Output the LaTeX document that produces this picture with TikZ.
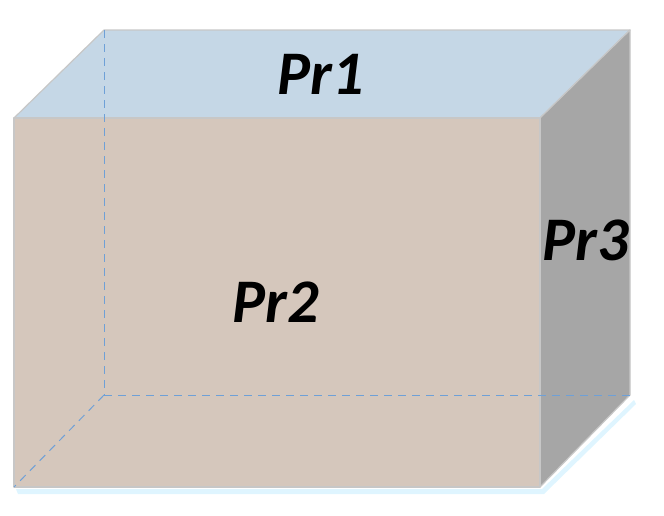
\documentclass[tikz,border=0pt]{standalone}
\usepackage{fontspec}
\setmainfont{Carlito}
\begin{document}
\begin{tikzpicture}[x=1pt,y=-1pt,
  face/.style={draw=black!22,line width=1.2pt,line join=round},
  hid/.style={draw={rgb,255:red,110;green,160;blue,215},dash pattern=on 8pt off 6pt,line width=1pt},
  lab/.style={font=\fontsize{62}{62}\selectfont\bfseries\itshape}]
\useasboundingbox (0,0) rectangle (664,515);
\coordinate (A) at (14,118); \coordinate (B) at (540,118);
\coordinate (C) at (540,487); \coordinate (D) at (14,487);
\coordinate (E) at (104,30); \coordinate (F) at (630,30);
\coordinate (G) at (630,395); \coordinate (H) at (104,395);
\fill[blue!30!cyan!25,opacity=0.5] (16,489) -- (542,489) -- (634,400) -- (636,404) -- (544,494) -- (18,494) -- cycle;
\filldraw[face,fill={rgb,255:red,197;green,215;blue,230}] (A) -- (E) -- (F) -- (B) -- cycle;
\filldraw[face,fill={rgb,255:red,166;green,166;blue,166}] (B) -- (F) -- (G) -- (C) -- cycle;
\filldraw[face,fill={rgb,255:red,213;green,199;blue,188}] (A) -- (B) -- (C) -- (D) -- cycle;
\draw[hid] (E) -- (H); \draw[hid] (H) -- (G); \draw[hid] (H) -- (D);
\node[lab] (p1) at (321,74) {Pr1};
\node[lab] (p2) at (276,302) {Pr2};
\node[lab] (p3) at (586,240) {Pr3};
\end{tikzpicture}
\end{document}
